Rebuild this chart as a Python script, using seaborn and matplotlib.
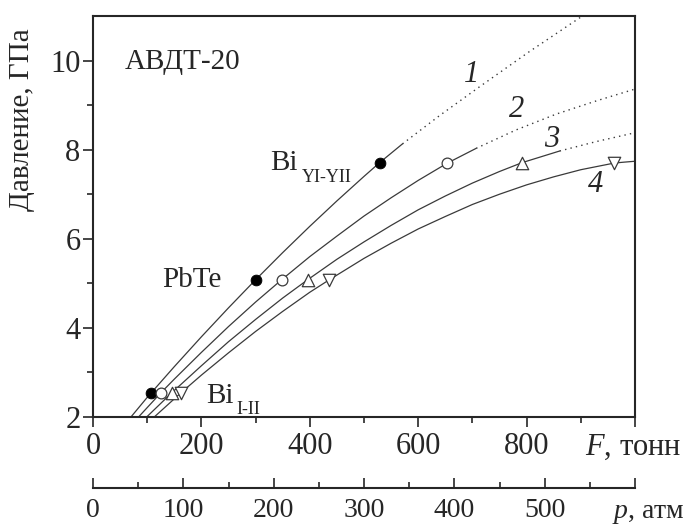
import numpy as np
import pandas as pd
import matplotlib
matplotlib.use("Agg")
import matplotlib.pyplot as plt
import seaborn as sns

# ---------------- данные ----------------
# кривая 1
F1 = [70, 100, 150, 200, 250, 300, 350, 400, 450, 500, 529, 571]
P1 = [2.0, 2.44, 3.13, 3.8, 4.45, 5.08, 5.69, 6.28, 6.85, 7.4, 7.71, 8.13]
F1_dot = [571, 640, 713, 805, 903]
P1_dot = [8.13, 8.77, 9.41, 10.2, 11.0]

# кривая 2
F2 = [84, 125, 150, 200, 250, 300, 348, 400, 450, 500, 550, 600, 654, 707]
P2 = [2.0, 2.54, 2.85, 3.45, 4.03, 4.58, 5.08, 5.6, 6.06, 6.51, 6.92, 7.31, 7.7, 8.03]
F2_dot = [707, 780, 855, 930, 1000]
P2_dot = [8.03, 8.44, 8.8, 9.1, 9.36]

# кривая 3
F3 = [99, 145, 200, 250, 300, 350, 396, 450, 500, 550, 600, 650, 700, 750, 792, 861]
P3 = [2.0, 2.54, 3.15, 3.69, 4.19, 4.67, 5.08, 5.54, 5.93, 6.3, 6.65, 6.96, 7.25, 7.51, 7.71, 7.97]
F3_dot = [861, 928, 1000]
P3_dot = [7.97, 8.18, 8.38]

# кривая 4
F4 = [113, 162, 200, 250, 300, 350, 400, 436, 500, 550, 600, 650, 700, 750,
      800, 850, 900, 962, 980, 1000]
P4 = [2.0, 2.54, 2.94, 3.44, 3.92, 4.37, 4.8, 5.08, 5.56, 5.9, 6.22, 6.5, 6.77, 7.0,
      7.21, 7.39, 7.55, 7.7, 7.72, 7.74]

# реперные точки: Bi I-II, PbTe, Bi VI-VII
P_ref = [2.54, 5.08, 7.71]
F_mark1 = [107, 300, 529]
F_mark2 = [125, 348, 654]
F_mark3 = [145, 396, 792]
F_mark4 = [162, 436, 962]

x_ticks = [0, 200, 400, 600, 800, 1000]
x_labels = ["0", "200", "400", "600", "800", ""]
p_ticks = [0, 100, 200, 300, 400, 500, 600]
p_labels = ["0", "100", "200", "300", "400", "500", ""]
y_ticks = [2, 4, 6, 8, 10]

# ---------------- оформление ----------------
sns.set_style("ticks")
plt.rcParams["font.family"] = ["Liberation Serif", "DejaVu Serif"]
plt.rcParams["mathtext.fontset"] = "custom"
plt.rcParams["mathtext.rm"] = "Liberation Serif"
plt.rcParams["mathtext.it"] = "Liberation Serif:italic"

fs = 22
line_col = "#3a3a3a"

fig = plt.figure(figsize=(6.89, 5.29), dpi=100)
ax = fig.add_axes([93/689, 1 - 417/529, 542/689, 401/529])

for F, P in [(F1, P1), (F2, P2), (F3, P3), (F4, P4)]:
    sns.lineplot(x=F, y=P, ax=ax, color=line_col, lw=0.9, sort=False, estimator=None)
for F, P in [(F1_dot, P1_dot), (F2_dot, P2_dot), (F3_dot, P3_dot)]:
    sns.lineplot(x=F, y=P, ax=ax, color=line_col, lw=1.0, sort=False,
                 estimator=None, linestyle=(0, (1, 3)))

ms = 60
sns.scatterplot(x=F_mark1, y=P_ref, ax=ax, marker="o", s=ms, color="black",
                edgecolor="black", zorder=5)
sns.scatterplot(x=F_mark2, y=P_ref, ax=ax, marker="o", s=ms, facecolor="white",
                edgecolor=line_col, linewidth=0.9, zorder=5)
sns.scatterplot(x=F_mark3, y=P_ref, ax=ax, marker="^", s=ms + 20, facecolor="white",
                edgecolor=line_col, linewidth=0.9, zorder=5)
sns.scatterplot(x=F_mark4, y=P_ref, ax=ax, marker="v", s=ms + 20, facecolor="white",
                edgecolor=line_col, linewidth=0.9, zorder=5)

ax.set_xlim(0, 1000)
ax.set_ylim(2, 11)
ax.set_xticks(x_ticks)
ax.set_xticklabels(x_labels)
ax.set_xticks(range(100, 1000, 200), minor=True)
ax.set_yticks(y_ticks)
ax.set_yticks([3, 5, 7, 9], minor=True)
ax.tick_params(axis="both", which="major", labelsize=fs, length=7, width=1.2,
               direction="out")
ax.tick_params(axis="both", which="minor", length=4, width=1.2, direction="out")
ax.tick_params(axis="x", pad=4)
ax.tick_params(axis="y", pad=2)
for s in ax.spines.values():
    s.set_linewidth(1.5)
ax.set_xlabel("")
ax.set_ylabel("")

# подписи
ax.text(59, 9.8, "АВДТ-20", fontsize=21, ha="left", va="baseline")
ax.text(127, 4.92, "PbTe", fontsize=21, ha="left", va="baseline")
ax.text(326, 7.55, "Bi", fontsize=21, ha="left", va="baseline")
ax.text(385, 7.28, "YI-YII", fontsize=13, ha="left", va="baseline")
ax.text(208, 2.32, "Bi", fontsize=21, ha="left", va="baseline")
ax.text(264, 2.07, "I-II", fontsize=13, ha="left", va="baseline")

for txt, fx, py in [("1", 699, 9.69), ("2", 781, 8.9), ("3", 847, 8.22), ("4", 927, 7.21)]:
    ax.text(fx, py, txt, fontsize=22, style="italic", ha="center", va="center")

fig.text(22/689, 1 - 120/529, "Давление, ГПа", rotation=90, fontsize=21,
         ha="center", va="center")
fig.text(585/689, 1 - 455/529, "$F$, тонн", fontsize=fs, ha="left", va="baseline")

# вторая ось: давление в прессе
ax2 = fig.add_axes([93/689, 1 - 488/529, 542/689, 0.0001])
ax2.set_xlim(0, 600)
ax2.set_xticks(p_ticks)
ax2.set_xticklabels(p_labels)
ax2.set_xticks(range(50, 600, 100), minor=True)
ax2.set_yticks([])
for side in ["top", "left", "right"]:
    ax2.spines[side].set_visible(False)
ax2.spines["bottom"].set_linewidth(1.5)
ax2.tick_params(axis="x", which="major", direction="in", length=7, width=1.2,
                labelsize=20, pad=7)
ax2.tick_params(axis="x", which="minor", direction="in", length=4, width=1.2)
fig.text(612/689, 1 - 518/529, "$p$, атм", fontsize=20, ha="left", va="baseline")

fig.savefig("out.png", dpi=100)
